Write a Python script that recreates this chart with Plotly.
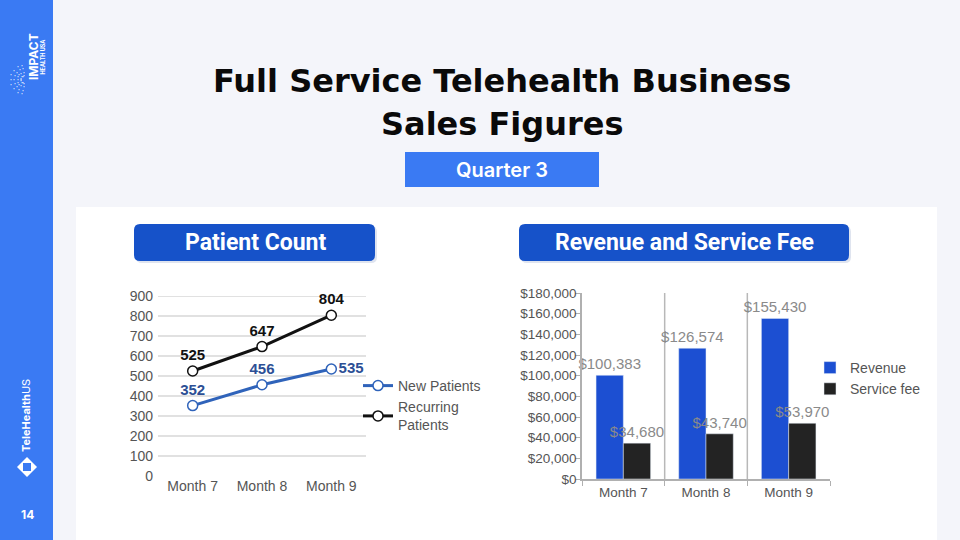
import math
import plotly.graph_objects as go

# ── Data ───────────────────────────────────────────────────────────────────
months = ["Month 7", "Month 8", "Month 9"]
new_patients = [352, 456, 535]
recurring_patients = [525, 647, 804]
revenue = [100383, 126574, 155430]
service_fee = [34680, 43740, 53970]

# ── Colours ────────────────────────────────────────────────────────────────
BG = "#f4f5fa"
SIDEBAR = "#3a7af3"
HEADER = "#1652c9"
QUARTER = "#3a7af3"
REV_BLUE = "#1c4fd2"
FEE_DARK = "#232323"
NEW_BLUE = "#2f63ba"
NEW_LABEL = "#2c4f95"
GRID = "#c4c4c4"
TICK = "#555555"
BARTEXT = "#8a8a8a"

W, H = 960, 540


def px(x):
    return x / W


def py(y):
    return 1 - y / H


fig = go.Figure()

# ── Line chart ────────────────────────────────────────────────────────────
fig.add_trace(go.Scatter(
    x=months, y=new_patients, name="New Patients",
    mode="lines+markers+text",
    line=dict(color=NEW_BLUE, width=3),
    marker=dict(size=10, color="white", line=dict(color=NEW_BLUE, width=1.5)),
    text=[f"<b>{v}</b>" for v in new_patients],
    textposition=["top center", "top center", "middle right"],
    textfont=dict(family="Liberation Sans", size=15, color=NEW_LABEL),
    xaxis="x", yaxis="y", legend="legend", cliponaxis=False,
))
fig.add_trace(go.Scatter(
    x=months, y=recurring_patients, name="Recurring<br>Patients",
    mode="lines+markers+text",
    line=dict(color="#111111", width=3),
    marker=dict(size=10, color="white", line=dict(color="#111111", width=1.5)),
    text=[f"<b>{v}</b>" for v in recurring_patients],
    textposition="top center",
    textfont=dict(family="Liberation Sans", size=15, color="#111111"),
    xaxis="x", yaxis="y", legend="legend", cliponaxis=False,
))

# ── Bar chart ─────────────────────────────────────────────────────────────
fig.add_trace(go.Bar(
    x=months, y=revenue, name="Revenue",
    marker_color=REV_BLUE,
    text=[f"${v:,}" for v in revenue],
    textposition="outside", constraintext="none",
    textfont=dict(family="Liberation Sans", size=15, color=BARTEXT),
    xaxis="x2", yaxis="y2", legend="legend2", cliponaxis=False,
))
fig.add_trace(go.Bar(
    x=months, y=service_fee, name="Service fee",
    marker_color=FEE_DARK,
    text=[f"${v:,}" for v in service_fee],
    textposition="outside", constraintext="none",
    textfont=dict(family="Liberation Sans", size=15, color=BARTEXT),
    xaxis="x2", yaxis="y2", legend="legend2", cliponaxis=False,
))

# ── Shapes: slide furniture ───────────────────────────────────────────────
shapes = [
    dict(type="rect", xref="paper", yref="paper", x0=0, x1=px(53), y0=0, y1=1,
         fillcolor=SIDEBAR, line_width=0, layer="below"),
    dict(type="rect", xref="paper", yref="paper", x0=px(76), x1=px(937),
         y0=0, y1=py(207), fillcolor="white", line_width=0, layer="below"),
    dict(type="rect", xref="paper", yref="paper", x0=px(405), x1=px(599),
         y0=py(187), y1=py(152), fillcolor=QUARTER, line_width=0, layer="below"),
]


def header_box(x0, y0, x1, y1, color):
    r = 6
    X, Y = px, py
    p = (f"M {X(x0 + r)},{Y(y0)} L {X(x1 - r)},{Y(y0)} Q {X(x1)},{Y(y0)} {X(x1)},{Y(y0 + r)} "
         f"L {X(x1)},{Y(y1 - r)} Q {X(x1)},{Y(y1)} {X(x1 - r)},{Y(y1)} L {X(x0 + r)},{Y(y1)} "
         f"Q {X(x0)},{Y(y1)} {X(x0)},{Y(y1 - r)} L {X(x0)},{Y(y0 + r)} Q {X(x0)},{Y(y0)} {X(x0 + r)},{Y(y0)} Z")
    return dict(type="path", xref="paper", yref="paper", path=p,
                fillcolor=color, line_width=0, layer="below")


shapes.append(header_box(136, 226, 377, 263, "#dfe4ef"))
shapes.append(header_box(134, 224, 375, 261, HEADER))
shapes.append(header_box(521, 226, 851, 263, "#dfe4ef"))
shapes.append(header_box(519, 224, 849, 261, HEADER))

# sidebar icon: diamond with inner square
cx, cy = 27, 467
shapes.append(dict(type="path", xref="paper", yref="paper",
                   path=f"M {px(cx)},{py(cy - 10)} L {px(cx + 10)},{py(cy)} L {px(cx)},{py(cy + 10)} "
                        f"L {px(cx - 10)},{py(cy)} Z",
                   fillcolor="white", line_width=0))
shapes.append(dict(type="rect", xref="paper", yref="paper",
                   x0=px(cx - 4), x1=px(cx + 4), y0=py(cy + 4), y1=py(cy - 4),
                   fillcolor=SIDEBAR, line_width=0))

# line-chart gridlines (no line at zero)
for v in range(100, 1000, 100):
    shapes.append(dict(type="line", xref="x domain", yref="y", x0=0, x1=1,
                       y0=v, y1=v, line=dict(color=GRID, width=1.2), layer="below"))

# bar-chart separators between month groups
for i in range(1, len(months)):
    shapes.append(dict(type="line", xref="x2", yref="y2 domain",
                       x0=i - 0.5, x1=i - 0.5, y0=0, y1=1,
                       line=dict(color="#b8b8b8", width=1.5), layer="below"))

# ── Annotations ───────────────────────────────────────────────────────────
TITLE_FONT = dict(family="DejaVu Sans", size=32, color="#0a0a0a", weight="bold")
annotations = [
    dict(text="Full Service Telehealth Business", x=px(502), y=py(81),
         font=TITLE_FONT),
    dict(text="Sales Figures", x=px(502), y=py(124), font=TITLE_FONT),
    dict(text="Quarter 3", x=px(502), y=py(170),
         font=dict(family="Inter", size=20, color="white", weight=600)),
    dict(text="<b>Patient Count</b>", x=px(255), y=py(243),
         font=dict(family="Roboto", size=23, color="white")),
    dict(text="<b>Revenue and Service Fee</b>", x=px(684), y=py(243),
         font=dict(family="Roboto", size=23, color="white")),
    dict(text="<b>IMPACT</b>", x=px(34), y=py(57), textangle=-90,
         font=dict(family="Inter", size=12, color="white")),
    dict(text="<b>HEALTH USA</b>", x=px(42.5), y=py(57), textangle=-90,
         font=dict(family="Inter", size=5.5, color="white")),
    dict(text="<b>TeleHealth</b>US", x=px(26), y=py(416), textangle=-90,
         font=dict(family="Inter", size=11, color="white")),
    dict(text="<b>14</b>", x=px(27), y=py(514),
         font=dict(family="Inter", size=12, color="white")),
]

# sidebar logo: fan of dots opening to the left
for ring in range(4):
    rad = 4 + ring * 3.5
    for k in range(9):
        ang = math.radians(100 + k * 20)
        annotations.append(dict(
            text="•", x=px(25 + rad * math.cos(ang)), y=py(80 - rad * math.sin(ang)),
            font=dict(size=5, color="rgba(255,255,255,0.85)")))

for a in annotations:
    a.update(xref="paper", yref="paper", showarrow=False,
             xanchor="center", yanchor="middle")

AX_FONT = dict(family="Liberation Sans", size=14, color=TICK)
AX_FONT2 = dict(family="Liberation Sans", size=13.5, color=TICK)

fig.update_layout(
    width=W, height=H,
    margin=dict(l=0, r=0, t=0, b=0, pad=0, autoexpand=False),
    paper_bgcolor=BG, plot_bgcolor="rgba(0,0,0,0)",
    shapes=shapes, annotations=annotations,
    barmode="group", bargap=0.34, bargroupgap=0,
    xaxis=dict(domain=[px(158), px(366)], range=[-0.5, 2.5], showgrid=False,
               zeroline=False, showline=False, tickfont=AX_FONT,
               anchor="y", automargin=False),
    yaxis=dict(domain=[py(476), py(296)], range=[0, 900], dtick=100,
               showgrid=False, zeroline=False, showline=False,
               tickfont=AX_FONT, ticklabelstandoff=4, anchor="x",
               automargin=False),
    xaxis2=dict(domain=[px(582), px(830)], range=[-0.5, 2.5],
                showline=True, linecolor="#b0b0b0", linewidth=1.5,
                ticks="outside", tickson="boundaries", ticklen=5,
                tickcolor="#b0b0b0", showgrid=False, tickfont=AX_FONT2,
                anchor="y2", automargin=False),
    yaxis2=dict(domain=[py(479), py(293)], range=[0, 180000], dtick=20000,
                tickprefix="$", tickformat=",", showgrid=False,
                zeroline=False, showline=True, linecolor="#b0b0b0",
                linewidth=1.5, ticks="outside", ticklen=5, tickcolor="#b0b0b0",
                tickfont=AX_FONT2, ticklabelstandoff=-4, anchor="x2",
                automargin=False),
    legend=dict(x=px(358), y=py(370), xanchor="left", yanchor="top",
                bgcolor="rgba(0,0,0,0)", font=AX_FONT, itemwidth=30,
                tracegroupgap=0),
    legend2=dict(x=px(810), y=py(352), xanchor="left", yanchor="top",
                 bgcolor="rgba(0,0,0,0)", font=AX_FONT, itemwidth=30,
                 tracegroupgap=0),
)

fig.write_html("out.html", post_script="document.body.style.margin='0';",
               config={"displayModeBar": False})
